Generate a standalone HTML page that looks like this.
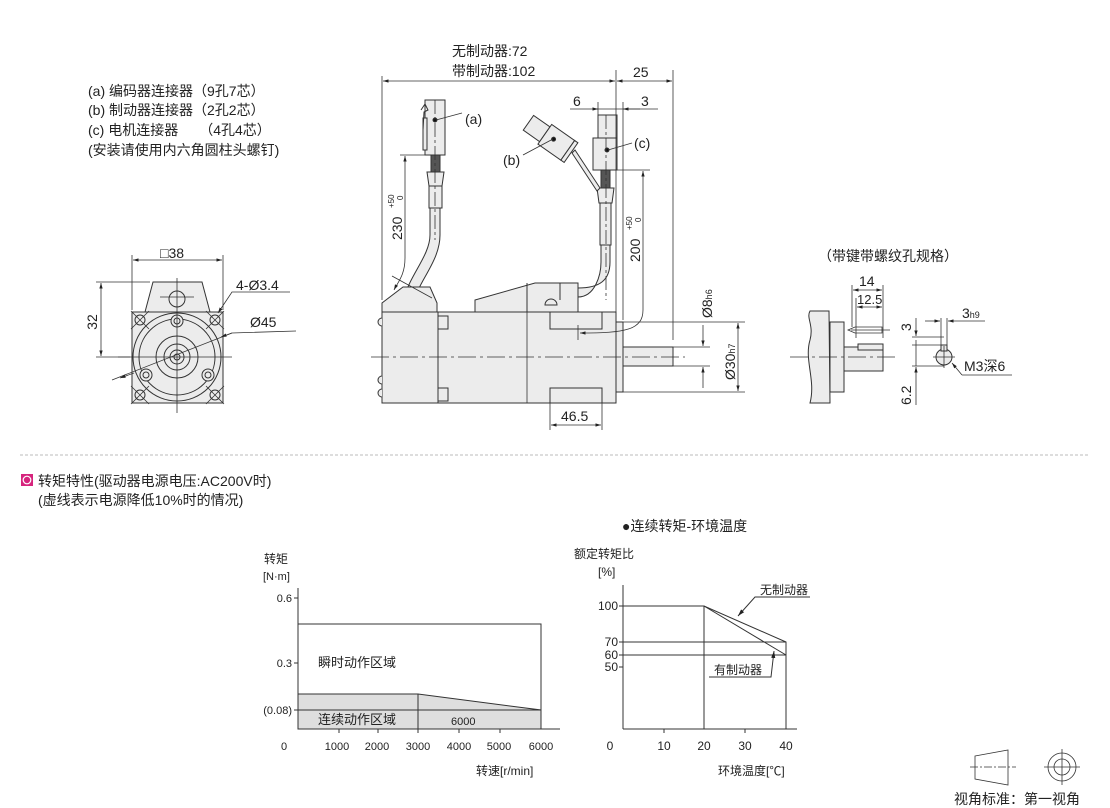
<!DOCTYPE html>
<html><head><meta charset="utf-8">
<style>
html,body{margin:0;padding:0;background:#fff;}
svg{display:block;}
text{font-family:"Liberation Sans","Noto Sans CJK SC",sans-serif;fill:#222;}
</style></head>
<body>
<svg width="1110" height="808" viewBox="0 0 1110 808" xmlns="http://www.w3.org/2000/svg">
<defs>
<marker id="ar" viewBox="0 0 10 10" refX="10" refY="5" markerWidth="7" markerHeight="7" orient="auto-start-reverse"><path d="M0,2 L10,5 L0,8 z" fill="#222"/></marker>
</defs>
<g stroke="#333" stroke-width="1" fill="none">

<!-- ===== Legend text ===== -->
</g>
<g font-size="14">
<text x="88" y="96">(a) 编码器连接器（9孔7芯）</text>
<text x="88" y="115">(b) 制动器连接器（2孔2芯）</text>
<text x="88" y="135">(c) 电机连接器　　（4孔4芯）</text>
<text x="88" y="155">(安装请使用内六角圆柱头螺钉)</text>
</g>

<!-- ===== Front view ===== -->
<g stroke="#333" stroke-width="1" fill="#ececec">
<path d="M145,312 L153,282 L202,282 L210,312 Z"/>
<rect x="132" y="312" width="91" height="91"/>
<circle cx="177" cy="357" r="44" fill="#ececec"/>
<circle cx="177" cy="357" r="38" fill="none"/>
<circle cx="177" cy="357" r="21" fill="none"/>
<circle cx="177" cy="357" r="13" fill="none"/>
<circle cx="177" cy="357" r="7" fill="none"/>
<circle cx="177" cy="357" r="3" fill="none"/>
<circle cx="177" cy="299" r="8" fill="#ececec"/>
<circle cx="177" cy="321" r="6"/><circle cx="177" cy="321" r="3" fill="none"/>
<circle cx="146" cy="375" r="6"/><circle cx="146" cy="375" r="3" fill="none"/>
<circle cx="208" cy="375" r="6"/><circle cx="208" cy="375" r="3" fill="none"/>
<circle cx="140" cy="320" r="5" fill="none"/><circle cx="215" cy="320" r="5" fill="none"/>
<circle cx="140" cy="395" r="5" fill="none"/><circle cx="215" cy="395" r="5" fill="none"/>
</g>
<g stroke="#333" stroke-width="0.8" fill="none">
<path d="M131,311 L149,329 M149,311 L131,329 M206,311 L224,329 M224,311 L206,329 M131,386 L149,404 M149,386 L131,404 M206,386 L224,404 M224,386 L206,404"/>
<line x1="177" y1="278" x2="177" y2="413"/>
<line x1="118" y1="357" x2="232" y2="357"/>
<line x1="160" y1="297" x2="194" y2="297"/>
<!-- dims -->
<line x1="132" y1="255" x2="132" y2="310"/><line x1="223" y1="255" x2="223" y2="310"/>
<line x1="133" y1="260" x2="222" y2="260" marker-start="url(#ar)" marker-end="url(#ar)"/>
<line x1="96" y1="282" x2="150" y2="282"/><line x1="96" y1="357" x2="130" y2="357"/>
<line x1="101" y1="283" x2="101" y2="356" marker-start="url(#ar)" marker-end="url(#ar)"/>
<path d="M290,292 L232,292 L218,313" marker-end="url(#ar)"/>
<path d="M112,380 L232,333 L296,331" />
<line x1="232" y1="333" x2="221" y2="337" marker-end="url(#ar)"/>
<line x1="120" y1="378" x2="134" y2="373" marker-start="url(#ar)"/>
</g>
<g font-size="14">
<text x="160" y="258">□38</text>
<text x="236" y="290">4-Ø3.4</text>
<text x="250" y="327">Ø45</text>
<text transform="translate(97,322) rotate(-90)" text-anchor="middle">32</text>
</g>

<!-- ===== Side view ===== -->
<g stroke="#333" stroke-width="1" fill="#ececec">
<!-- cable a -->
<path d="M414,300 C420,280 440,260 440,235 L440,208 L430,208 L430,235 C430,255 410,275 404,298 Z"/>
<path d="M382,312 L382,303 L403,287 L430,287 L437,303 L437,312 Z"/>
<rect x="429" y="186" width="13" height="22"/>
<path d="M427,172 L444,172 L442,186 L429,186 Z"/>
<rect x="431" y="155" width="9" height="17" fill="#555"/>
<rect x="425" y="100" width="20" height="55"/>
<path d="M423,118 L427,118 L427,150 L423,150 Z"/>
<path d="M421,110 L425,104 L428,110 L424,112 L423,130" fill="none"/>
<circle cx="435" cy="120" r="2" fill="#111"/>
<!-- brake housing -->
<path d="M475,312 L475,300 L535,283 L578,283 L578,312 Z"/>
<line x1="527" y1="283" x2="527" y2="312"/>
<line x1="560" y1="283" x2="560" y2="300"/>
<path d="M545,305 A6,6 0 0 1 557,305 Z"/>
<!-- cable c -->
<path d="M578,288 C600,288 610,280 610,262 L610,245 L601,245 L601,262 C601,275 595,297 578,297 Z"/>
<rect x="600" y="203" width="11" height="42"/>
<path d="M597,188 L614,188 L612,203 L599,203 Z"/>
<rect x="601" y="170" width="9" height="18" fill="#555"/>
<rect x="598" y="115" width="19" height="55"/>
<rect x="593" y="138" width="24" height="32"/>
<circle cx="607" cy="150" r="2" fill="#111"/>
<!-- connector b -->
<path d="M575,150 L600,188 L597,191 L572,153 Z"/>
<g transform="translate(553,140) rotate(35)">
<rect x="-30" y="-9" width="20" height="18"/>
<rect x="-10" y="-12" width="28" height="24"/>
<rect x="18" y="-12" width="4" height="24"/>
<circle cx="0" cy="-1" r="2" fill="#111"/>
</g>
<!-- motor body -->
<rect x="382" y="312" width="56" height="91"/>
<rect x="438" y="312" width="178" height="91"/>
<rect x="616" y="322" width="7" height="70"/>
<rect x="623" y="347" width="50" height="19"/>
<rect x="438" y="316" width="10" height="13"/><rect x="438" y="388" width="10" height="13"/>
<rect x="550" y="312" width="52" height="17" fill="none"/>
<rect x="550" y="388" width="52" height="15" fill="none"/>
<path d="M382,318 a4,4 0 0 0 0,8 M382,376 a4,4 0 0 0 0,8 M382,389 a4,4 0 0 0 0,8"/>
</g>
<g stroke="#333" stroke-width="0.8" fill="none">
<line x1="527" y1="312" x2="527" y2="403"/>
<line x1="371" y1="357" x2="685" y2="357" stroke-dasharray="18,4,3,4"/>
<line x1="435" y1="100" x2="435" y2="240" stroke-dasharray="14,3,3,3"/>
<line x1="606" y1="115" x2="606" y2="300" stroke-dasharray="14,3,3,3"/>
<!-- top dims -->
<line x1="382" y1="76" x2="382" y2="300"/>
<line x1="616" y1="70" x2="616" y2="312"/>
<line x1="673" y1="70" x2="673" y2="340"/>
<line x1="383" y1="81" x2="615" y2="81" marker-start="url(#ar)" marker-end="url(#ar)"/>
<line x1="617" y1="81" x2="672" y2="81" marker-start="url(#ar)" marker-end="url(#ar)"/>
<line x1="570" y1="109" x2="616" y2="109"/><line x1="616" y1="109" x2="658" y2="109"/>
<line x1="594" y1="109" x2="598" y2="109" marker-end="url(#ar)"/>
<line x1="640" y1="109" x2="623" y2="109" marker-end="url(#ar)"/>
<line x1="598" y1="102" x2="598" y2="115"/><line x1="623" y1="102" x2="623" y2="320"/>
<!-- leaders -->
<line x1="436" y1="120" x2="462" y2="113"/>
<line x1="553" y1="139" x2="523" y2="155"/>
<line x1="608" y1="150" x2="632" y2="143"/>
<!-- 230 -->
<line x1="400" y1="155" x2="440" y2="155"/>
<path d="M405,156 L405,258 C405,275 398,282 394,290" marker-start="url(#ar)" marker-end="url(#ar)"/>
<line x1="392" y1="276" x2="432" y2="298"/>
<!-- 200 -->
<line x1="617" y1="170" x2="650" y2="170"/>
<path d="M643,171 L643,310 C643,330 625,333 580,333" marker-start="url(#ar)" marker-end="url(#ar)"/>
<line x1="578" y1="325" x2="578" y2="340"/>
<!-- shaft dims -->
<line x1="673" y1="347" x2="710" y2="347"/><line x1="673" y1="366" x2="710" y2="366"/>
<line x1="703" y1="325" x2="703" y2="346" marker-end="url(#ar)"/>
<line x1="703" y1="388" x2="703" y2="367" marker-end="url(#ar)"/>
<line x1="623" y1="322" x2="745" y2="322"/><line x1="623" y1="392" x2="745" y2="392"/>
<line x1="738" y1="323" x2="738" y2="391" marker-start="url(#ar)" marker-end="url(#ar)"/>
<!-- 46.5 -->
<line x1="550" y1="403" x2="550" y2="430"/><line x1="602" y1="403" x2="602" y2="430"/>
<line x1="551" y1="425" x2="601" y2="425" marker-start="url(#ar)" marker-end="url(#ar)"/>
</g>
<g font-size="14">
<text x="452" y="56">无制动器:72</text>
<text x="452" y="76">带制动器:102</text>
<text x="633" y="77">25</text>
<text x="573" y="106">6</text>
<text x="641" y="106">3</text>
<text x="465" y="124">(a)</text>
<text x="503" y="165">(b)</text>
<text x="634" y="148">(c)</text>
<text x="561" y="421">46.5</text>
<text transform="translate(402,240) rotate(-90)">230</text>
<text transform="translate(640,262) rotate(-90)">200</text>
<text transform="translate(712,318) rotate(-90)">Ø8<tspan font-size="9">h6</tspan></text>
<text transform="translate(735,380) rotate(-90)">Ø30<tspan font-size="9">h7</tspan></text>
</g>
<g font-size="8">
<text transform="translate(394,208) rotate(-90)">+50</text>
<text transform="translate(403,200) rotate(-90)">0</text>
<text transform="translate(632,230) rotate(-90)">+50</text>
<text transform="translate(641,222) rotate(-90)">0</text>
</g>

<!-- ===== Key detail ===== -->
<text x="818" y="261" font-size="14">（带键带螺纹孔规格）</text>
<g stroke="#333" stroke-width="1" fill="#ececec">
<path d="M810,311 L829,311 L830,403 L810,403 C816,380 804,360 810,340 C814,325 806,318 810,311 Z"/>
<rect x="830" y="322" width="14" height="70"/>
<rect x="844" y="347" width="39" height="24"/>
<rect x="858" y="344" width="25" height="6"/>
<circle cx="944" cy="357" r="8"/>
<rect x="941" y="345" width="6" height="6"/>
</g>
<g stroke="#333" stroke-width="0.8" fill="none">
<line x1="790" y1="357" x2="895" y2="357" stroke-dasharray="18,4,3,4"/>
<line x1="851" y1="330" x2="890" y2="330"/>
<path d="M848,330 L855,327 L882,327 L882,333 L855,333 Z"/>
<line x1="852" y1="285" x2="852" y2="327"/><line x1="883" y1="285" x2="883" y2="338"/>
<line x1="856" y1="298" x2="856" y2="338"/>
<line x1="853" y1="290" x2="882" y2="290" marker-start="url(#ar)" marker-end="url(#ar)"/>
<line x1="857" y1="307" x2="882" y2="307" marker-start="url(#ar)" marker-end="url(#ar)"/>
<line x1="941" y1="318" x2="941" y2="345"/><line x1="947" y1="318" x2="947" y2="345"/>
<line x1="925" y1="321" x2="940" y2="321" marker-end="url(#ar)"/>
<line x1="985" y1="321" x2="948" y2="321" marker-end="url(#ar)"/>
<line x1="912" y1="345" x2="944" y2="345"/><line x1="912" y1="366" x2="944" y2="366"/>
<line x1="912" y1="337" x2="944" y2="337"/>
<line x1="916" y1="318" x2="916" y2="336" marker-end="url(#ar)"/>
<line x1="916" y1="340" x2="916" y2="366"/>
<line x1="916" y1="405" x2="916" y2="367" marker-end="url(#ar)"/>
<line x1="933" y1="357" x2="955" y2="357"/><line x1="944" y1="346" x2="944" y2="368"/>
<path d="M962,375 L952,363" marker-end="url(#ar)"/>
<line x1="962" y1="375" x2="1012" y2="375"/>
</g>
<g font-size="14">
<text x="859" y="286">14</text>
<text x="857" y="304" font-size="13">12.5</text>
<text x="962" y="318">3<tspan font-size="9">h9</tspan></text>
<text x="964" y="371">M3深6</text>
<text transform="translate(911,331) rotate(-90)">3</text>
<text transform="translate(911,405) rotate(-90)">6.2</text>
</g>

<!-- divider -->
<line x1="20" y1="455" x2="1090" y2="455" stroke="#bbb" stroke-width="1" stroke-dasharray="3,2"/>

<!-- section title -->
<rect x="21" y="474" width="12" height="12" fill="#d6247d"/>
<circle cx="27" cy="480" r="3.8" fill="none" stroke="#fff" stroke-width="1.2"/>
<text x="38" y="486" font-size="14">转矩特性(驱动器电源电压:AC200V时)</text>
<text x="38" y="505" font-size="14">(虚线表示电源降低10%时的情况)</text>
<text x="622" y="531" font-size="14">●连续转矩-环境温度</text>

<!-- ===== Chart 1 ===== -->
<g stroke="#333" stroke-width="1" fill="none">
<path d="M298,694 L418,694 L541,710 L541,729 L298,729 Z" fill="#dedede"/>
<line x1="298" y1="588" x2="298" y2="729"/>
<line x1="298" y1="729" x2="560" y2="729"/>
<path d="M298,624 L541,624 L541,729"/>
<line x1="418" y1="694" x2="418" y2="729"/>
<line x1="298" y1="710" x2="541" y2="710"/>
<path d="M294,598 H298 M294,663 H298 M294,710 H298 M339,729 V733 M378,729 V733 M418,729 V733 M459,729 V733 M500,729 V733"/>
</g>
<g font-size="11">
<text x="264" y="563" font-size="12">转矩</text>
<text x="263" y="580">[N·m]</text>
<text x="292" y="602" text-anchor="end">0.6</text>
<text x="292" y="667" text-anchor="end">0.3</text>
<text x="292" y="714" text-anchor="end">(0.08)</text>
<text x="318" y="667" font-size="13">瞬时动作区域</text>
<text x="318" y="724" font-size="13">连续动作区域</text>
<text x="451" y="725">6000</text>
<text x="284" y="750" text-anchor="middle">0</text>
<text x="337" y="750" text-anchor="middle">1000</text>
<text x="377" y="750" text-anchor="middle">2000</text>
<text x="418" y="750" text-anchor="middle">3000</text>
<text x="459" y="750" text-anchor="middle">4000</text>
<text x="499" y="750" text-anchor="middle">5000</text>
<text x="541" y="750" text-anchor="middle">6000</text>
<text x="476" y="775" font-size="12">转速[r/min]</text>
</g>

<!-- ===== Chart 2 ===== -->
<g stroke="#333" stroke-width="1" fill="none">
<line x1="623" y1="585" x2="623" y2="729"/>
<line x1="623" y1="729" x2="797" y2="729"/>
<path d="M623,606 L704,606 L786,642 L786,729"/>
<path d="M704,606 L786,655"/>
<line x1="704" y1="606" x2="704" y2="729"/>
<line x1="623" y1="642" x2="786" y2="642"/>
<line x1="623" y1="655" x2="786" y2="655"/>
<path d="M619,606 H623 M619,642 H623 M619,655 H623 M619,667 H623 M664,729 V733 M745,729 V733"/>
<path d="M810,597 L755,597 L738,616" marker-end="url(#ar)"/>
<path d="M709,677 L771,677 L774,651" marker-end="url(#ar)"/>
</g>
<g font-size="12">
<text x="574" y="558">额定转矩比</text>
<text x="598" y="576">[%]</text>
<text x="618" y="610" text-anchor="end">100</text>
<text x="618" y="646" text-anchor="end">70</text>
<text x="618" y="659" text-anchor="end">60</text>
<text x="618" y="671" text-anchor="end">50</text>
<text x="760" y="594">无制动器</text>
<text x="714" y="674">有制动器</text>
<text x="610" y="750" text-anchor="middle">0</text>
<text x="664" y="750" text-anchor="middle">10</text>
<text x="704" y="750" text-anchor="middle">20</text>
<text x="745" y="750" text-anchor="middle">30</text>
<text x="786" y="750" text-anchor="middle">40</text>
<text x="718" y="775">环境温度[℃]</text>
</g>

<!-- ===== Projection symbol ===== -->
<g stroke="#333" stroke-width="0.8" fill="none">
<path d="M975,756 L1008,750 L1008,785 L975,779 Z"/>
<line x1="970" y1="767" x2="1016" y2="767" stroke-dasharray="8,2,2,2"/>
<circle cx="1062" cy="767" r="14"/>
<circle cx="1062" cy="767" r="8"/>
<line x1="1044" y1="767" x2="1080" y2="767"/>
<line x1="1062" y1="749" x2="1062" y2="785"/>
</g>
<text x="954" y="804" font-size="14">视角标准：第一视角</text>
</svg>
</body></html>
